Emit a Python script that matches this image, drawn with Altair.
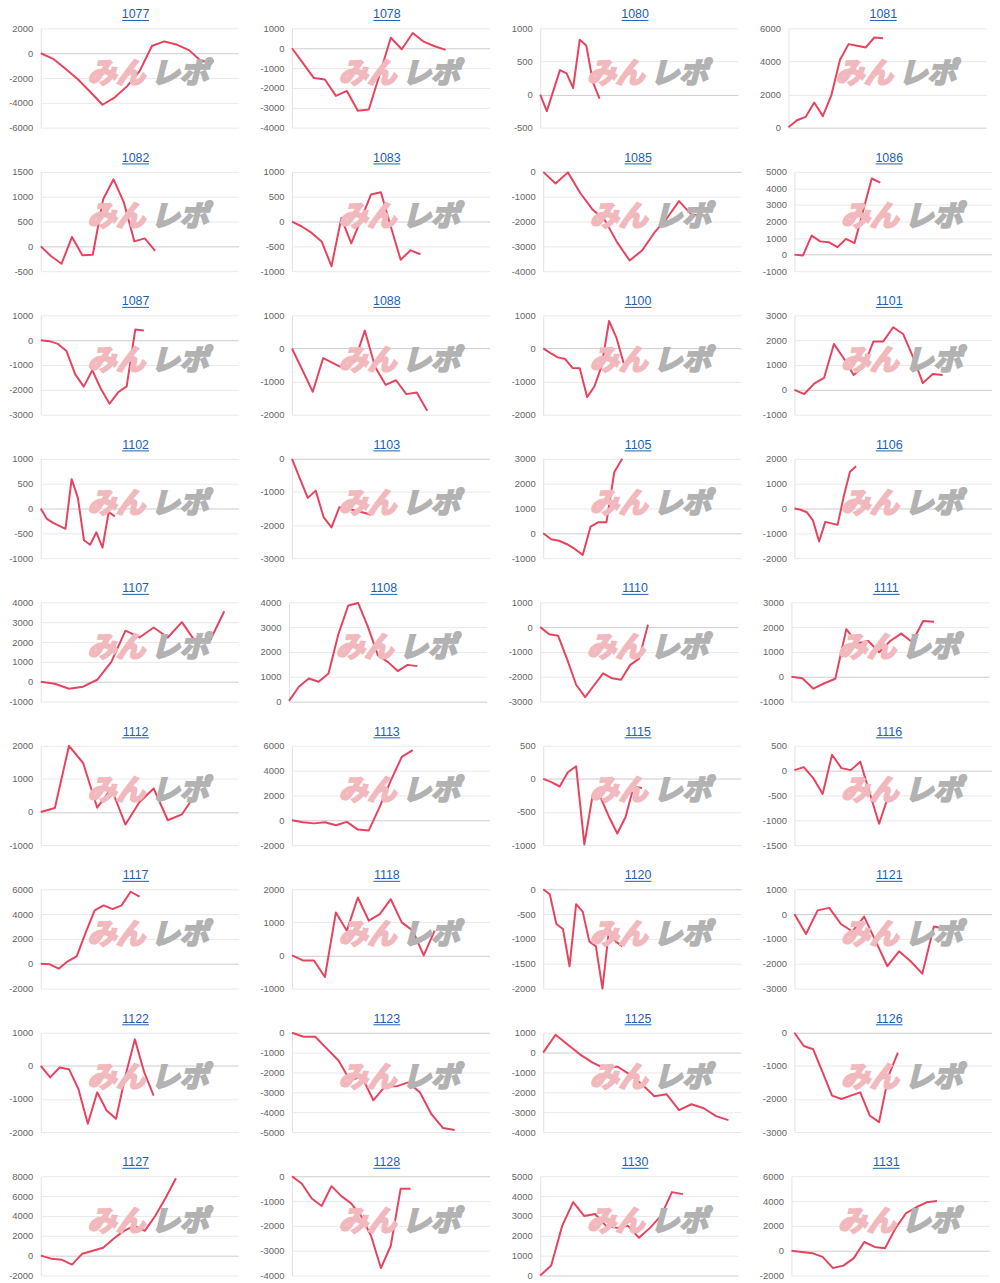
import altair as alt
import pandas as pd

ids = ["1077", "1078", "1080", "1081",
       "1082", "1083", "1085", "1086",
       "1087", "1088", "1100", "1101",
       "1102", "1103", "1105", "1106",
       "1107", "1108", "1110", "1111",
       "1112", "1113", "1115", "1116",
       "1117", "1118", "1120", "1121",
       "1122", "1123", "1125", "1126",
       "1127", "1128", "1130", "1131"]

s1077 = [0, -450, -1250, -2100, -3100, -4150, -3550, -2650, -1450, 580, 950, 700, 250, -650, -650]
s1078 = [0, -750, -1500, -1570, -2400, -2150, -3150, -3080, -1300, 530, -50, 770, 330, 100, -80]
s1080 = [0, -250, 60, 370, 320, 100, 830, 740, 190, -60]
s1081 = [30, 450, 650, 1520, 700, 1970, 4100, 5050, 4950, 4850, 5450, 5400]
s1082 = [0, -200, -350, 190, -180, -170, 950, 1350, 880, 100, 160, -90]
s1083 = [0, -100, -230, -400, -900, 70, -440, 50, 545, 590, -100, -770, -580, -660]
s1085 = [0, -470, -20, -850, -1520, -1950, -2850, -3570, -3170, -2450, -1880, -1180, -1720, -1760]
s1086 = [0, -50, 1150, 800, 750, 450, 950, 700, 2650, 4600, 4350]
s1087 = [0, -40, -150, -440, -1370, -1870, -1210, -1960, -2560, -2100, -1860, 430, 390]
s1088 = [0, -650, -1310, -290, -450, -610, -400, 540, -560, -1100, -960, -1380, -1330, -1880]
s1100 = [0, -140, -270, -320, -590, -600, -1470, -1150, -520, 830, 330, -450]
s1101 = [0, -170, 250, 480, 1850, 1260, 600, 930, 1950, 1950, 2520, 2250, 1330, 270, 640, 600]
s1102 = [0, -210, -290, -350, -410, 590, 220, -640, -730, -480, -790, -70, -160]
s1103 = [0, -600, -1180, -960, -1760, -2070, -1460, -1510, -1560, -1620, -1690]
s1105 = [0, -240, -300, -440, -630, -870, 270, 450, 450, 2470, 3000]
s1106 = [0, -50, -150, -480, -1330, -540, -600, -660, 500, 1480, 1700]
s1107 = [0, -100, -350, -250, 100, 1000, 2570, 2230, 2730, 2230, 3000, 1970, 2080, 3550]
s1108 = [30, 600, 930, 800, 1130, 2720, 3870, 3970, 3000, 1860, 1600, 1230, 1480, 1430]
s1110 = [0, -290, -350, -1300, -2320, -2820, -2340, -1860, -2060, -2120, -1530, -1270, 100]
s1111 = [0, -60, -480, -260, -80, 1920, 1350, 1440, 990, 1440, 1740, 1400, 2250, 2220]
s1112 = [0, 120, 2000, 1480, 130, 710, -380, 300, 710, -250, -70, 550]
s1113 = [0, -160, -250, -160, -400, -130, -750, -820, 1100, 3200, 5100, 5650]
s1115 = [0, -50, -115, 100, 190, -990, -250, -290, -575, -825, -575, -110, -140]
s1116 = [10, 70, -150, -470, 320, 50, 10, 180, -450, -1070, -500]
s1117 = [0, -50, -400, 200, 600, 2500, 4300, 4700, 4400, 4700, 5800, 5400]
s1118 = [0, -150, -150, -650, 1300, 750, 1750, 1050, 1250, 1700, 1000, 750, 0, 750]
s1120 = [0, -100, -700, -800, -1550, -300, -450, -1050, -1150, -2000, -800, -1050, -1150]
s1121 = [0, -800, 150, 250, -400, -700, -100, -1100, -2100, -1500, -1900, -2400, -500, -600]
s1122 = [0, -350, -50, -100, -700, -1750, -800, -1350, -1600, -300, 800, -200, -900]
s1123 = [0, -200, -200, -800, -1400, -2400, -2200, -3400, -2700, -2700, -2500, -3000, -4100, -4800, -4900]
s1125 = [0, 900, 400, -100, -500, -800, -700, -1100, -1600, -2200, -2100, -2900, -2600, -2800, -3200, -3400]
s1126 = [0, -400, -500, -1200, -1900, -2000, -1900, -1800, -2500, -2700, -1300, -600]
s1127 = [0, -300, -400, -900, 200, 500, 800, 1700, 2500, 3000, 2500, 4000, 5800, 7800]
s1128 = [0, -300, -900, -1200, -400, -800, -1100, -1600, -2400, -3700, -2800, -500, -500]
s1130 = [0, 500, 2500, 3700, 3000, 3100, 2500, 2400, 2500, 1900, 2400, 3000, 4200, 4100]
s1131 = [0, -100, -200, -500, -1400, -1200, -600, 700, 300, 200, 1800, 3000, 3500, 3900, 4000]

series = [s1077, s1078, s1080, s1081, s1082, s1083, s1085, s1086, s1087, s1088,
          s1100, s1101, s1102, s1103, s1105, s1106, s1107, s1108, s1110, s1111,
          s1112, s1113, s1115, s1116, s1117, s1118, s1120, s1121, s1122, s1123,
          s1125, s1126, s1127, s1128, s1130, s1131]

# number of x-axis slots (category labels) per chart
slots = [17, 19, 31, 24, 20, 21, 17, 24, 24, 20, 28, 21, 33, 26, 26, 33,
         15, 21, 23, 19, 15, 19, 25, 22, 23, 19, 31, 18, 22, 18, 17, 22,
         20, 21, 19, 20]

y_lo = [-6000, -4000, -500, 0, -500, -1000, -4000, -1000, -3000, -2000, -2000, -1000,
        -1000, -3000, -1000, -2000, -1000, 0, -3000, -1000, -1000, -2000, -1000, -1500,
        -2000, -1000, -2000, -3000, -2000, -5000, -4000, -3000, -2000, -4000, 0, -2000]
y_hi = [2000, 1000, 1000, 6000, 1500, 1000, 0, 5000, 1000, 1000, 1000, 3000,
        1000, 0, 3000, 2000, 4000, 4000, 1000, 3000, 2000, 6000, 500, 500,
        6000, 2000, 0, 1000, 1000, 0, 1000, 0, 8000, 0, 5000, 6000]
y_step = [2000, 1000, 500, 2000, 500, 500, 1000, 1000, 1000, 1000, 1000, 1000,
          500, 1000, 1000, 1000, 1000, 1000, 1000, 1000, 1000, 2000, 500, 500,
          2000, 1000, 500, 1000, 1000, 1000, 1000, 1000, 2000, 1000, 1000, 2000]

W, H = 199, 100
FONT = "Liberation Sans"
LINE = "#e8435e"
BLUE = "#1b5fb5"
GRID = "#e9e9e9"
ZERO = "#cdcdcd"
WM_PINK = "#f1b9bd"
WM_GRAY = "#b2b2b2"


def panel(k):
    vals = series[k]
    df = pd.DataFrame({"i": list(range(len(vals))), "v": vals})
    ys = alt.Scale(domain=[y_lo[k], y_hi[k]], nice=False, zero=False)
    xs = alt.Scale(domain=[0, slots[k] - 1], nice=False, zero=False)
    ticks = list(range(y_lo[k], y_hi[k] + 1, y_step[k]))
    line = alt.Chart(df).mark_line(color=LINE, strokeWidth=2, strokeJoin="round").encode(
        x=alt.X("i:Q", scale=xs, axis=None),
        y=alt.Y("v:Q", scale=ys, axis=alt.Axis(
            values=ticks, title=None, grid=True,
            gridColor={"condition": {"test": "datum.value === 0", "value": ZERO}, "value": GRID},
            gridWidth=1, ticks=False, labelPadding=8, labelFontSize=9.5,
            labelColor="#666666", labelFont=FONT, domain=True, domainColor="#e2e2e2",
            minExtent=30, maxExtent=30, labelFlush=False, labelOverlap=False,
            tickCount=len(ticks), labelExpr="'' + datum.value")),
    )
    one = pd.DataFrame({"z": [0]})
    wm1 = alt.Chart(one).mark_text(
        text="みん", font="Noto Sans CJK JP", fontSize=29, fontWeight="bold",
        fontStyle="italic", color=WM_PINK, stroke=WM_PINK, strokeWidth=2.2,
        align="center", baseline="middle"
    ).encode(x=alt.value(76), y=alt.value(46))
    wm2 = alt.Chart(one).mark_text(
        text="レポ", font="Noto Sans CJK JP", fontSize=29, fontWeight="bold",
        fontStyle="italic", color=WM_GRAY, stroke=WM_GRAY, strokeWidth=2.2,
        align="center", baseline="middle"
    ).encode(x=alt.value(140), y=alt.value(46))
    title = alt.Chart(one).mark_text(
        text=ids[k], font=FONT, fontSize=12.5, color=BLUE, align="center",
        baseline="middle"
    ).encode(x=alt.value(W / 2 - 4), y=alt.value(-14))
    uline = alt.Chart(one).mark_rule(color=BLUE, strokeWidth=1).encode(
        x=alt.value(W / 2 - 4 - 13.5), x2=alt.value(W / 2 - 4 + 13.5), y=alt.value(-8)
    )
    return alt.layer(line, wm1, wm2, title, uline).properties(width=W, height=H)


rows = []
for r in range(9):
    rows.append(alt.hconcat(*[panel(r * 4 + c) for c in range(4)], spacing=21))

chart = alt.vconcat(*rows, spacing=19.5).configure_view(stroke=None).properties(
    padding={"left": 0, "top": -4, "right": 0, "bottom": 0},
    background="white",
)

chart.save("out.html", embed_options={"renderer": "svg", "actions": False})
